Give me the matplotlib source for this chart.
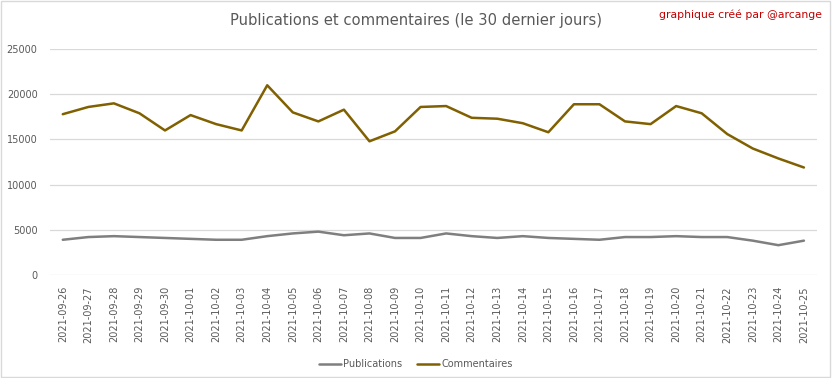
import matplotlib
matplotlib.use("Agg")
import matplotlib.pyplot as plt
from matplotlib.patches import Rectangle

dates = ["2021-09-26", "2021-09-27", "2021-09-28", "2021-09-29", "2021-09-30",
         "2021-10-01", "2021-10-02", "2021-10-03", "2021-10-04", "2021-10-05",
         "2021-10-06", "2021-10-07", "2021-10-08", "2021-10-09", "2021-10-10",
         "2021-10-11", "2021-10-12", "2021-10-13", "2021-10-14", "2021-10-15",
         "2021-10-16", "2021-10-17", "2021-10-18", "2021-10-19", "2021-10-20",
         "2021-10-21", "2021-10-22", "2021-10-23", "2021-10-24", "2021-10-25"]

publications = [3900, 4200, 4300, 4200, 4100, 4000, 3900, 3900, 4300, 4600,
                4800, 4400, 4600, 4100, 4100, 4600, 4300, 4100, 4300, 4100,
                4000, 3900, 4200, 4200, 4300, 4200, 4200, 3800, 3300, 3800]

commentaires = [17800, 18600, 19000, 17900, 16000, 17700, 16700, 16000, 21000, 18000,
                17000, 18300, 14800, 15900, 18600, 18700, 17400, 17300, 16800, 15800,
                18900, 18900, 17000, 16700, 18700, 17900, 15600, 14000, 12900, 11900]

yticks = [0, 5000, 10000, 15000, 20000, 25000]

txt = "#595959"
grid = "#D9D9D9"

fig = plt.figure(figsize=(8.32, 3.78), dpi=100)
ax = fig.add_axes([0.0601, 0.2725, 0.9215, 0.5975])

x = list(range(len(dates)))
ax.plot(x, publications, color="#7F7F7F", lw=1.8, label="Publications", solid_capstyle="round")
ax.plot(x, commentaires, color="#806000", lw=1.8, label="Commentaires", solid_capstyle="round")

ax.set_xlim(-0.5, len(dates) - 0.5)
ax.set_ylim(0, 25000)
ax.set_yticks(yticks)
ax.set_yticklabels([str(v) for v in yticks])
ax.set_xticks(x)
ax.set_xticklabels(dates, rotation=90)
ax.tick_params(axis="both", length=0, colors=txt, labelsize=7)
ax.tick_params(axis="y", pad=9)
ax.tick_params(axis="x", pad=8)
ax.grid(axis="y", color=grid, lw=0.9)
ax.set_axisbelow(True)
for s in ax.spines.values():
    s.set_visible(False)

fig.text(0.5, 0.947, "Publications et commentaires (le 30 dernier jours)",
         ha="center", va="center", fontsize=10.6, color=txt)
fig.text(0.988, 0.96, "graphique créé par @arcange", ha="right", va="center",
         fontsize=7.8, color="#C00000")

leg = fig.legend(loc="center", bbox_to_anchor=(0.5, 0.037), ncol=2, frameon=False,
                 fontsize=7, handlelength=2.2, columnspacing=1.5, handletextpad=0.3)
for t in leg.get_texts():
    t.set_color(txt)

fig.patches.append(Rectangle((0.001, 0.002), 0.997, 0.995, transform=fig.transFigure,
                             fill=False, ec=grid, lw=1))

fig.savefig("out.png", dpi=100)
